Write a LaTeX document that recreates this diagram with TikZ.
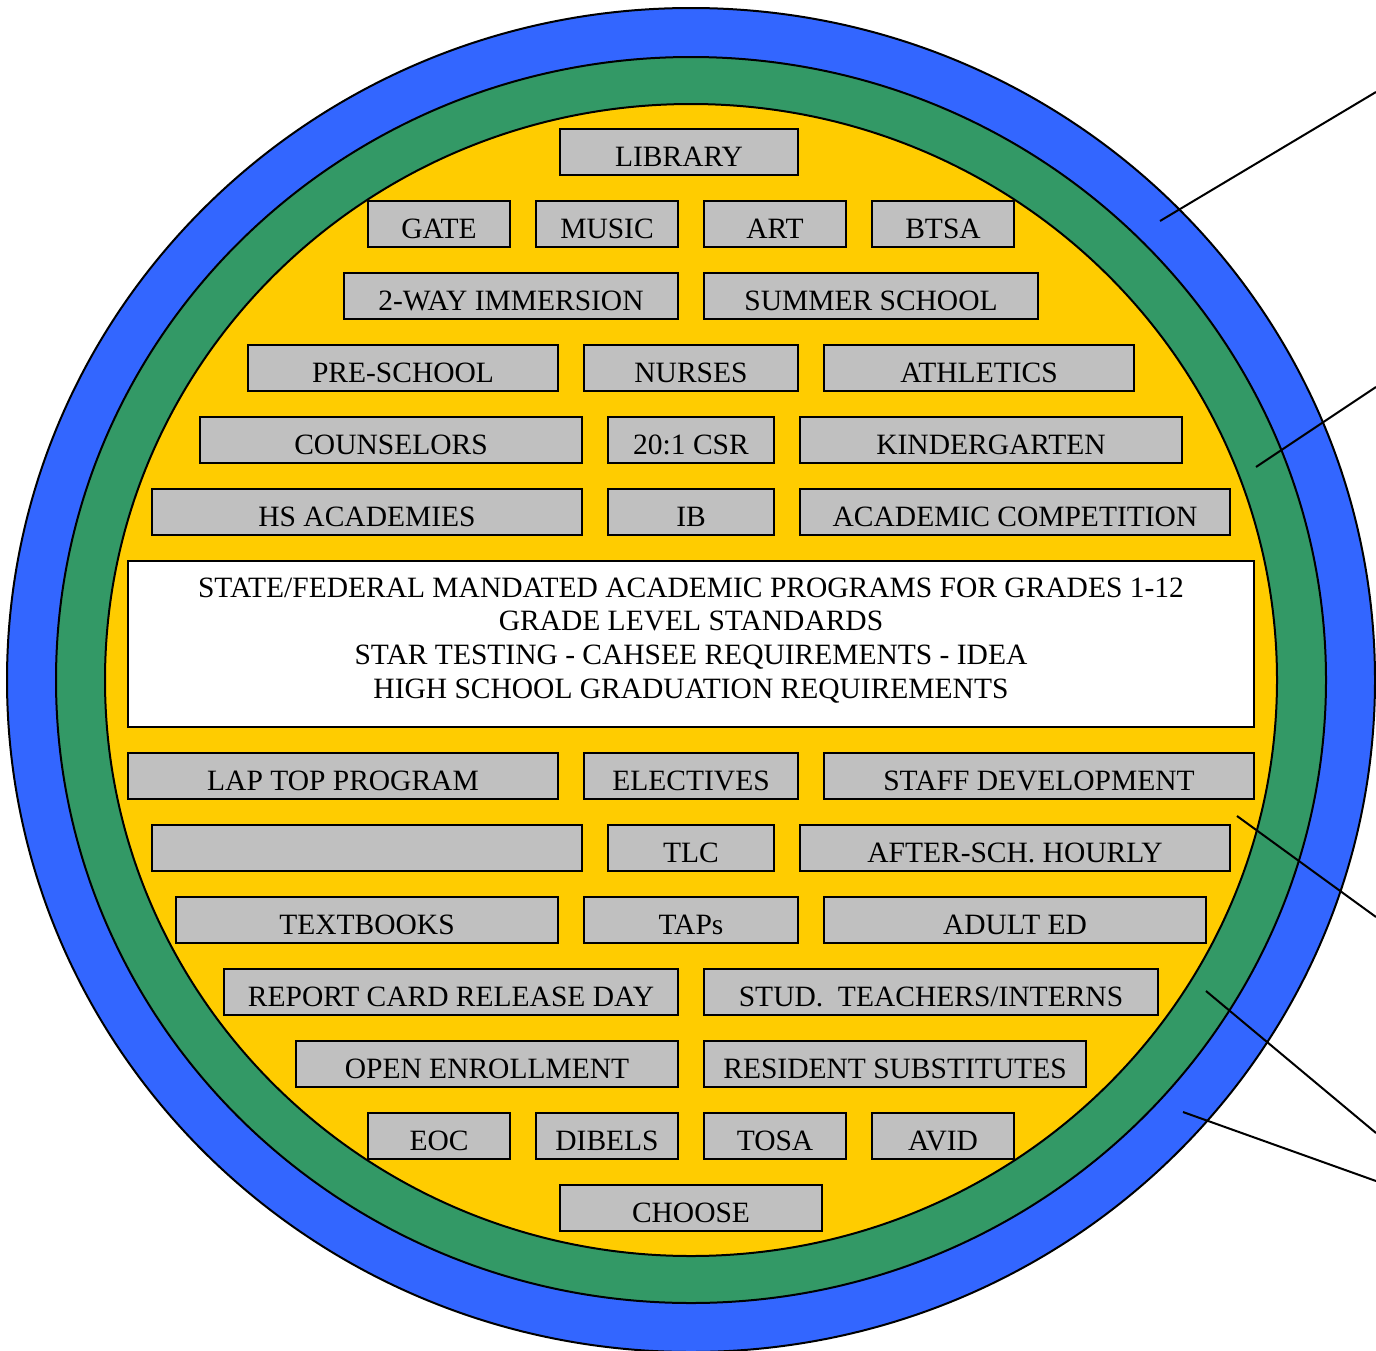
\documentclass[tikz,border=0pt]{standalone}
\usepackage{xcolor}
\usepackage{fontspec}
\setmainfont{Liberation Serif}
\usepackage{tikz}
\usetikzlibrary{positioning}
\definecolor{ringblue}{HTML}{3366FF}
\definecolor{ringgreen}{HTML}{339966}
\definecolor{ringyellow}{HTML}{FFCC00}
\definecolor{boxgray}{HTML}{C0C0C0}

\begin{document}
\begin{tikzpicture}[x=0.5pt,y=-0.5pt,node distance=12pt,
			main node/.style={draw,line width=1pt,fill=boxgray,inner sep=0pt,
				text height=18.5pt,text depth=4.5pt,font=\fontsize{14.75}{16.8}\selectfont},
			ring/.style={draw,line width=1pt}]
			\useasboundingbox (0,0) rectangle (1376,1350);
			% rings
			\draw[ring,fill=ringblue] (691,680) ellipse [x radius=342pt,y radius=336pt];
			\draw[ring,fill=ringgreen] (691,680) ellipse [x radius=317.5pt,y radius=311.5pt];
			\draw[ring,fill=ringyellow] (691,680) ellipse [x radius=293pt,y radius=288pt];
			% pointer lines
			\coordinate (p1) at (1160,221); \coordinate (q1) at (1376,92);
			\coordinate (p2) at (1256,467); \coordinate (q2) at (1376,387);
			\coordinate (p3) at (1237,816); \coordinate (q3) at (1376,917);
			\coordinate (p4) at (1206,991); \coordinate (q4) at (1376,1133);
			\coordinate (p5) at (1183,1112); \coordinate (q5) at (1376,1181);
			\path[line width=1pt] (p1) edge (q1) (p2) edge (q2) (p3) edge (q3)
			(p4) edge (q4) (p5) edge (q5);
			% upper boxes
			\node[main node,minimum width=119pt,anchor=north west] (1) at (559,128) {LIBRARY};
			\node[main node,minimum width=71pt,anchor=north west] (2) at (367,200) {GATE};
			\node[main node,minimum width=71pt] (3) [right=of 2] {MUSIC};
			\node[main node,minimum width=71pt] (4) [right=of 3] {ART};
			\node[main node,minimum width=71pt] (5) [right=of 4] {BTSA};
			\node[main node,minimum width=167pt,anchor=north west] (6) at (343,272) {2-WAY IMMERSION};
			\node[main node,minimum width=167pt] (7) [right=of 6] {SUMMER SCHOOL};
			\node[main node,minimum width=155pt,anchor=north west] (8) at (247,344) {PRE-SCHOOL};
			\node[main node,minimum width=107pt] (9) [right=of 8] {NURSES};
			\node[main node,minimum width=155pt] (10) [right=of 9] {ATHLETICS};
			\node[main node,minimum width=191pt,anchor=north west] (11) at (199,416) {COUNSELORS};
			\node[main node,minimum width=83pt] (12) [right=of 11] {20:1 CSR};
			\node[main node,minimum width=191pt] (13) [right=of 12] {KINDERGARTEN};
			\node[main node,minimum width=215pt,anchor=north west] (14) at (151,488) {HS ACADEMIES};
			\node[main node,minimum width=83pt] (15) [right=of 14] {IB};
			\node[main node,minimum width=215pt] (16) [right=of 15] {ACADEMIC COMPETITION};
			% mandated programs
			\node[draw,line width=1pt,fill=white,inner sep=0pt,minimum width=563pt,minimum height=83pt,
			text depth=6pt,align=center,font=\fontsize{14.75}{16.8}\selectfont,anchor=north west] (17) at (127,560)
			{STATE/FEDERAL MANDATED ACADEMIC PROGRAMS FOR GRADES 1-12\\GRADE LEVEL STANDARDS\\
				STAR TESTING - CAHSEE REQUIREMENTS - IDEA\\HIGH SCHOOL GRADUATION REQUIREMENTS};
			% lower boxes
			\node[main node,minimum width=215pt,anchor=north west] (18) at (127,752) {LAP TOP PROGRAM};
			\node[main node,minimum width=107pt] (19) [right=of 18] {ELECTIVES};
			\node[main node,minimum width=215pt] (20) [right=of 19] {STAFF DEVELOPMENT};
			\node[main node,minimum width=215pt,anchor=north west] (21) at (151,824) {};
			\node[main node,minimum width=83pt] (22) [right=of 21] {TLC};
			\node[main node,minimum width=215pt] (23) [right=of 22] {AFTER-SCH. HOURLY};
			\node[main node,minimum width=191pt,anchor=north west] (24) at (175,896) {TEXTBOOKS};
			\node[main node,minimum width=107pt] (25) [right=of 24] {TAPs};
			\node[main node,minimum width=191pt] (26) [right=of 25] {ADULT ED};
			\node[main node,minimum width=227pt,anchor=north west] (27) at (223,968) {REPORT CARD RELEASE DAY};
			\node[main node,minimum width=227pt] (28) [right=of 27] {STUD.\ \ TEACHERS/INTERNS};
			\node[main node,minimum width=191pt,anchor=north west] (29) at (295,1040) {OPEN ENROLLMENT};
			\node[main node,minimum width=191pt] (30) [right=of 29] {RESIDENT SUBSTITUTES};
			\node[main node,minimum width=71pt,anchor=north west] (31) at (367,1112) {EOC};
			\node[main node,minimum width=71pt] (32) [right=of 31] {DIBELS};
			\node[main node,minimum width=71pt] (33) [right=of 32] {TOSA};
			\node[main node,minimum width=71pt] (34) [right=of 33] {AVID};
			\node[main node,minimum width=131pt,anchor=north west] (35) at (559,1184) {CHOOSE};
		\end{tikzpicture}
\end{document}
